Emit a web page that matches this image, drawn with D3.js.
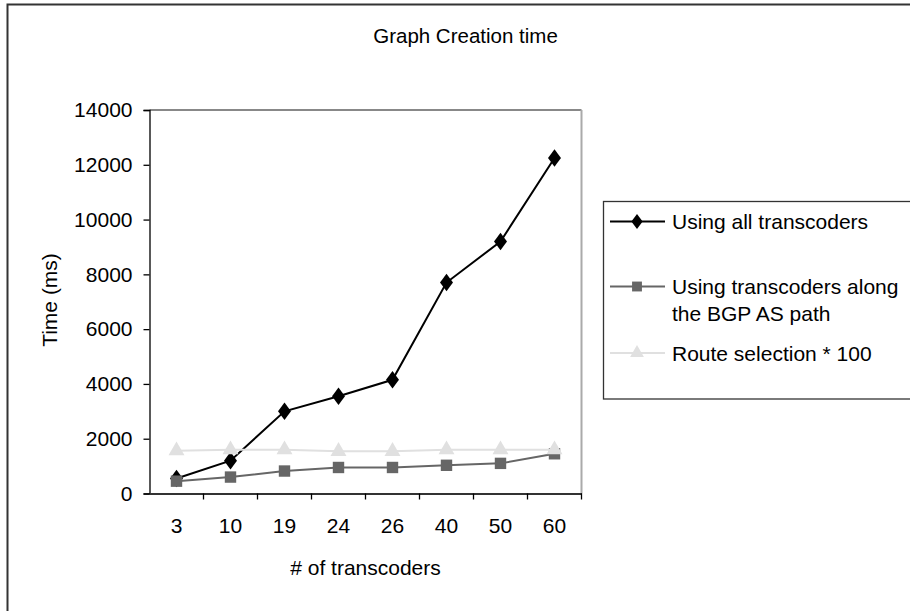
<!DOCTYPE html>
<html>
<head>
<meta charset="utf-8">
<script src="https://cdn.jsdelivr.net/npm/d3@7"></script>
<style>
  body { margin: 0; background: #fff; }
  text { font-family: "Liberation Sans", Arial, sans-serif; fill: #000; }
</style>
</head>
<body>
<div id="chart"></div>
<script>
// data
var transcoders = ["3", "10", "19", "24", "26", "40", "50", "60"];
var allTranscoders = [550, 1200, 3000, 3550, 4150, 7700, 9200, 12250];
var bgpPath = [450, 600, 820, 950, 950, 1030, 1100, 1450];
var routeSelection = [1560, 1600, 1600, 1540, 1540, 1600, 1600, 1600];
var yTicks = [0, 2000, 4000, 6000, 8000, 10000, 12000, 14000];

var seriesNames = ["Using all transcoders", "Using transcoders along|the BGP AS path", "Route selection * 100"];

var W = 910, H = 611;
var plot = {left: 149.5, right: 581.5, top: 110, bottom: 493.5};

var svg = d3.select("#chart").append("svg")
  .attr("width", W)
  .attr("height", H);

// outer frame (only top and left edges are visible)
svg.append("rect")
  .attr("x", 7.5).attr("y", 4.5)
  .attr("width", 1000).attr("height", 1000)
  .attr("fill", "none")
  .attr("stroke", "#333")
  .attr("stroke-width", 2);

svg.append("text")
  .attr("x", 465.5).attr("y", 43)
  .attr("text-anchor", "middle")
  .style("font-size", "20.5px")
  .text("Graph Creation time");

var x = d3.scaleBand()
  .domain(transcoders)
  .range([plot.left, plot.right]);

var y = d3.scaleLinear()
  .domain([0, 14000])
  .range([plot.bottom, plot.top]);

// plot area: grey top and right edges
svg.append("line")
  .attr("x1", plot.left).attr("x2", plot.right)
  .attr("y1", plot.top).attr("y2", plot.top)
  .attr("stroke", "#888").attr("stroke-width", 2);
svg.append("line")
  .attr("x1", plot.right).attr("x2", plot.right)
  .attr("y1", plot.top).attr("y2", plot.bottom)
  .attr("stroke", "#aaa").attr("stroke-width", 2);

// Y axis
var yAxis = svg.append("g")
  .attr("transform", "translate(" + plot.left + ",0)")
  .call(d3.axisLeft(y).tickValues(yTicks).tickSize(6).tickPadding(11).tickFormat(d3.format("d")));
yAxis.select(".domain").attr("stroke", "#000").attr("stroke-width", 1.3);
yAxis.selectAll(".tick line").attr("stroke", "#000").attr("stroke-width", 1.3);
yAxis.selectAll("text")
  .style("font-size", "21px")
  .style("font-family", "'Liberation Sans', Arial, sans-serif");

// X axis, ticks between categories
var xAxis = svg.append("g")
  .attr("transform", "translate(0," + plot.bottom + ")")
  .call(d3.axisBottom(x).tickSize(0).tickPadding(25));
xAxis.select(".domain").attr("stroke", "#333").attr("stroke-width", 1.8);
xAxis.selectAll("text")
  .style("font-size", "21px")
  .style("font-family", "'Liberation Sans', Arial, sans-serif");
var edges = transcoders.map(function(d) { return x(d) + x.bandwidth(); });
xAxis.selectAll(".sep")
  .data(edges)
  .enter().append("line")
  .attr("x1", function(d) { return d; })
  .attr("x2", function(d) { return d; })
  .attr("y1", 0).attr("y2", 6)
  .attr("stroke", "#000").attr("stroke-width", 1.3);

svg.append("text")
  .attr("x", (plot.left + plot.right) / 2).attr("y", 575)
  .attr("text-anchor", "middle")
  .style("font-size", "21px")
  .text("# of transcoders");

svg.append("text")
  .attr("transform", "translate(57,300) rotate(-90)")
  .attr("text-anchor", "middle")
  .style("font-size", "21px")
  .text("Time (ms)");

var cx = function(i) { return x(transcoders[i]) + x.bandwidth() / 2; };
var line = d3.line()
  .x(function(d, i) { return cx(i); })
  .y(function(d) { return y(d); });

var series = [
  {values: allTranscoders, stroke: "#000", fill: "#000", symbol: d3.symbolDiamond, size: 110},
  {values: bgpPath, stroke: "#666", fill: "#666", symbol: d3.symbolSquare, size: 130},
  {values: routeSelection, stroke: "#e0e0e0", fill: "#e0e0e0", symbol: d3.symbolTriangle, size: 110}
];

series.forEach(function(s) {
  svg.append("path")
    .datum(s.values)
    .attr("d", line)
    .attr("fill", "none")
    .attr("stroke", s.stroke)
    .attr("stroke-width", 2);

  svg.selectAll(null)
    .data(s.values)
    .enter().append("path")
    .attr("d", d3.symbol().type(s.symbol).size(s.size))
    .attr("transform", function(d, i) {
      var sy = s.symbol === d3.symbolDiamond ? "scale(1.15,0.9)" : "";
      return "translate(" + cx(i) + "," + y(d) + ")" + sy;
    })
    .attr("fill", s.fill);
});

// legend
var legend = svg.append("g");
legend.append("rect")
  .attr("x", 603.5).attr("y", 201.5)
  .attr("width", 400).attr("height", 197.5)
  .attr("fill", "#fff")
  .attr("stroke", "#333")
  .attr("stroke-width", 1.3);

var legendY = [221.5, 286.5, 353];
series.forEach(function(s, i) {
  var g = legend.append("g").attr("transform", "translate(0," + legendY[i] + ")");
  g.append("line")
    .attr("x1", 610).attr("x2", 665)
    .attr("stroke", s.stroke).attr("stroke-width", 2);
  g.append("path")
    .attr("d", d3.symbol().type(s.symbol).size(s.size * 0.75))
    .attr("transform", "translate(637,0)" + (s.symbol === d3.symbolDiamond ? "scale(1.15,0.9)" : ""))
    .attr("fill", s.fill);
  var lines = seriesNames[i].split("|");
  lines.forEach(function(t, j) {
    g.append("text")
      .attr("x", 672)
      .attr("y", 7.5 + j * 27)
      .style("font-size", "21px")
      .text(t);
  });
});
</script>
</body>
</html>
